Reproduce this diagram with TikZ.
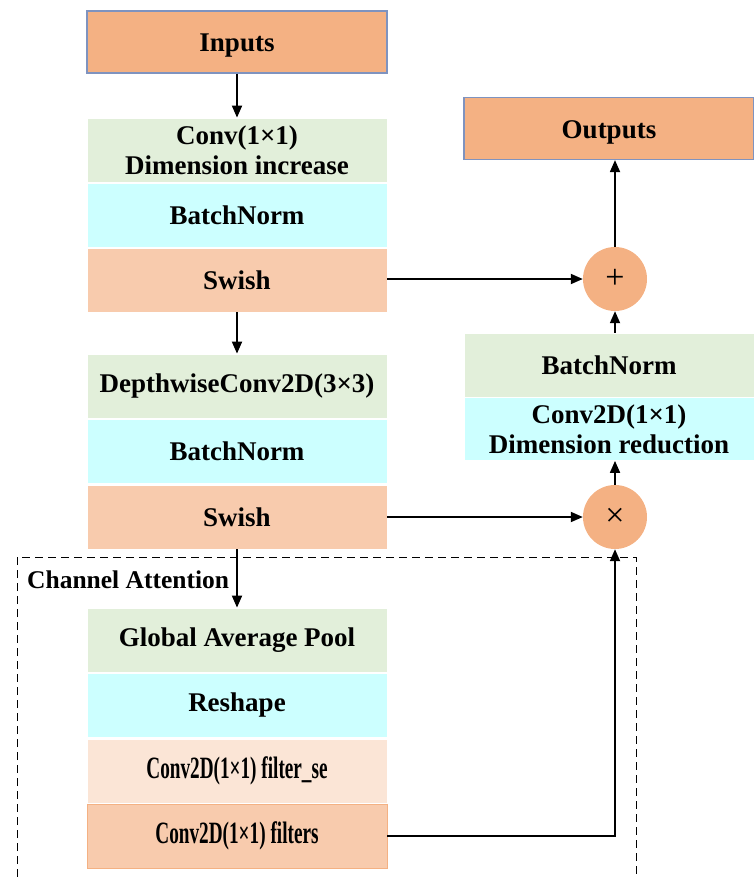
\documentclass[tikz,border=0pt]{standalone}
\usepackage{fontspec}
\usepackage{graphicx}
\setmainfont{Liberation Serif}
\usetikzlibrary{arrows.meta,calc}
\definecolor{orgA}{HTML}{F4B183}
\definecolor{grnA}{HTML}{E2EFDA}
\definecolor{cynA}{HTML}{CCFFFF}
\definecolor{swsA}{HTML}{F8CBAD}
\definecolor{pchA}{HTML}{FBE5D6}
\definecolor{brdA}{HTML}{7F93BF}
\begin{document}
\begin{tikzpicture}[x=1pt,y=-1pt,
  blk/.style={rectangle, minimum width=300pt, minimum height=64pt, inner sep=0pt,
    draw=white, line width=0.8pt, font=\bfseries\fontsize{27}{30}\selectfont, align=center},
  ioblk/.style={blk, fill=orgA, draw=brdA, line width=1.2pt, minimum height=62pt},
  opcirc/.style={circle, minimum size=64pt, inner sep=0pt, fill=orgA, font=\fontsize{34}{34}\selectfont},
  arr/.style={-{Triangle[length=12pt,width=10pt]}, line width=1.8pt},
]
\useasboundingbox (0,0) rectangle (754,877);

% dashed channel attention frame
\draw[line width=0.9pt, dash pattern=on 8pt off 5pt] (17,877) -- (17,557) -- (636,557) -- (636,877);
\node[anchor=west, font=\bfseries\fontsize{25.5}{28}\selectfont, inner sep=0pt] (catt) at (27,580) {Channel Attention};

% left column
\node[ioblk] (inputs) at (237,42) {\raisebox{-4pt}[\height][\depth]{Inputs}};
\node[blk, fill=grnA] (conv1) at (237,150) {Conv(1×1)\\Dimension increase};
\node[blk, fill=cynA] (bn1) at (237,215) {BatchNorm};
\node[blk, fill=swsA] (sw1) at (237,280) {Swish};

\node[blk, fill=grnA] (dw) at (237,386) {DepthwiseConv2D(3×3)};
\node[blk, fill=cynA] (bn2) at (237,451) {BatchNorm};
\node[blk, fill=swsA] (sw2) at (237,517) {Swish};

\node[blk, fill=grnA] (gap) at (237,640) {Global Average Pool};
\node[blk, fill=cynA] (resh) at (237,705) {Reshape};
\node[blk, fill=pchA] (fse) at (237,771) {\scalebox{0.62}[1]{\fontsize{31}{32}\selectfont Conv2D(1×1) filter\_se}};
\node[blk, fill=swsA, draw=orgA] (filt) at (237,836) {\scalebox{0.62}[1]{\fontsize{31}{32}\selectfont Conv2D(1×1) filters}};

% right column
\node[ioblk, minimum width=290pt] (outputs) at (609,128.5) {\raisebox{-4pt}[\height][\depth]{Outputs}};
\node[opcirc] (plus) at (615,279) {+};
\node[blk, fill=grnA, minimum width=290pt] (bn3) at (609,365) {BatchNorm};
\node[blk, fill=cynA, minimum width=290pt, minimum height=63pt] (conv3) at (609,429) {Conv2D(1×1)\\Dimension reduction};
\node[opcirc] (times) at (615,517) {×};

% connectors
\draw[arr] (inputs.south) -- (conv1.north);
\draw[arr] (sw1.south) -- (dw.north);
\draw[arr] (sw2.south) -- (gap.north);
\draw[arr] (sw1.east |- plus.west) -- (plus.west);
\draw[arr] (sw2.east |- times.west) -- (times.west);
\draw[arr] (filt.east) -| (times.south);
\draw[arr] (times.north) -- (times.north |- conv3.south);
\draw[arr] (plus.south |- bn3.north) -- (plus.south);
\draw[arr] (plus.north) -- (plus.north |- outputs.south);
\end{tikzpicture}
\end{document}
